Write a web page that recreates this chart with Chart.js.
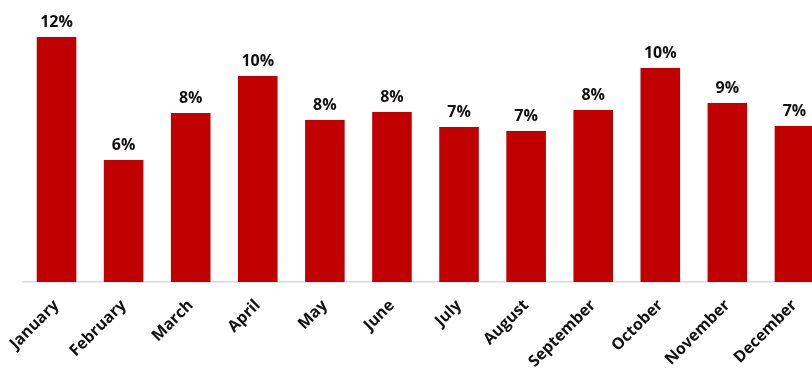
<!DOCTYPE html>
<html>
<head>
<meta charset="utf-8">
<script src="https://cdn.jsdelivr.net/npm/chart.js@4/dist/chart.umd.min.js"></script>
<style>
  html, body { margin: 0; padding: 0; background: #fff; overflow: hidden; }
  #wrap { width: 812px; height: 369px; overflow: hidden; }
</style>
</head>
<body>
<div id="wrap"><canvas id="myChart" width="828" height="369"></canvas></div>
<script>
var months = ["January", "February", "March", "April", "May", "June",
  "July", "August", "September", "October", "November", "December"];
var shareVal = [11.67, 5.81, 8.05, 9.81, 7.71, 8.10, 7.38, 7.19, 8.19, 10.19, 8.52, 7.43];

// draws the "12%" labels above each bar
var barLabels = {
  id: "barLabels",
  afterDatasetsDraw: function (chart) {
    var ctx = chart.ctx;
    var meta = chart.getDatasetMeta(0);
    ctx.save();
    ctx.font = "bold 16px 'Open Sans', Arial, sans-serif";
    ctx.fillStyle = "#111";
    ctx.textAlign = "center";
    ctx.textBaseline = "alphabetic";
    meta.data.forEach(function (bar, i) {
      ctx.fillText(Math.round(shareVal[i]) + "%", bar.x, bar.y - 10);
    });
    ctx.restore();
  }
};

var myChart = new Chart(document.getElementById("myChart"), {
  type: "bar",
  data: {
    labels: months,
    datasets: [{
      data: shareVal,
      backgroundColor: "#C00000",
      borderWidth: 0,
      barPercentage: 0.59,
      categoryPercentage: 1
    }]
  },
  options: {
    responsive: false,
    animation: false,
    layout: { padding: { left: 23, right: 0, top: 9, bottom: 0 } },
    plugins: { legend: { display: false }, tooltip: { enabled: false } },
    scales: {
      x: {
        grid: { display: false },
        border: { display: true, color: "#d9d9d9", width: 1.5 },
        ticks: {
          color: "#111",
          font: { family: "'Open Sans', Arial, sans-serif", size: 16, weight: "bold" },
          maxRotation: 45,
          minRotation: 45,
          padding: 6
        },
        afterFit: function (scale) {
          scale.paddingLeft = 0;
          scale.paddingRight = 0;
          scale.height = 87;
        }
      },
      y: {
        display: false,
        min: 0,
        max: 13
      }
    }
  },
  plugins: [barLabels]
});
</script>
</body>
</html>
